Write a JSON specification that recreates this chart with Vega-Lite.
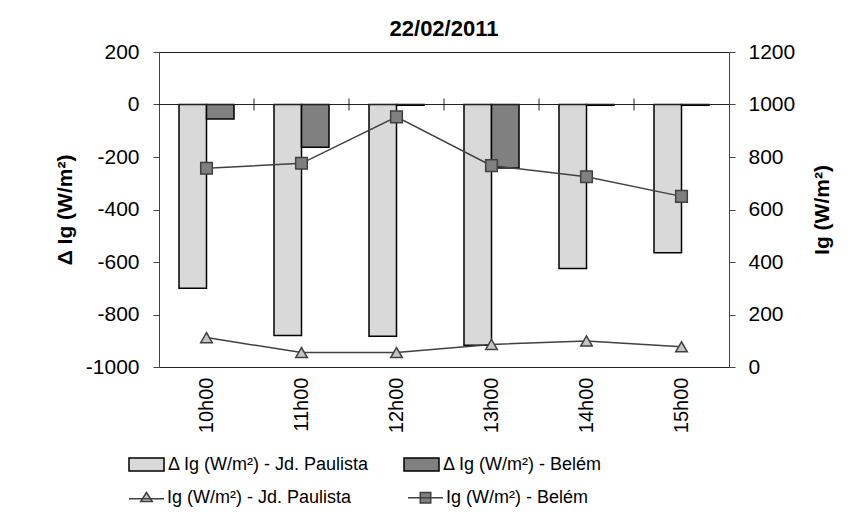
{
  "$schema": "https://vega.github.io/schema/vega-lite/v6.json",
  "width": 570,
  "height": 315,
  "autosize": {"type": "none"},
  "padding": {"left": 159, "top": 52, "right": 125, "bottom": 158},
  "background": "white",
  "title": {
    "text": "22/02/2011",
    "fontSize": 22,
    "fontWeight": "bold",
    "color": "#000",
    "anchor": "middle",
    "offset": 0
  },
  "config": {
    "font": "Liberation Sans",
    "view": {"stroke": "#222", "strokeWidth": 1},
    "axis": {
      "grid": false,
      "labelColor": "#000",
      "titleColor": "#000",
      "domainColor": "#444",
      "tickColor": "#444",
      "labelFontSize": 21,
      "titleFontSize": 21,
      "titleFontWeight": "bold"
    },
    "legend": {
      "labelFontSize": 18,
      "labelColor": "#000",
      "title": null
    }
  },
  "data": {
    "values": [
      {"hour": "10h00", "site": "Jd. Paulista", "dIg": -700, "Ig": 112},
      {"hour": "10h00", "site": "Belém", "dIg": -55, "Ig": 757},
      {"hour": "11h00", "site": "Jd. Paulista", "dIg": -880, "Ig": 55},
      {"hour": "11h00", "site": "Belém", "dIg": -163, "Ig": 776},
      {"hour": "12h00", "site": "Jd. Paulista", "dIg": -883, "Ig": 55},
      {"hour": "12h00", "site": "Belém", "dIg": -3, "Ig": 953},
      {"hour": "13h00", "site": "Jd. Paulista", "dIg": -917, "Ig": 86},
      {"hour": "13h00", "site": "Belém", "dIg": -242, "Ig": 767},
      {"hour": "14h00", "site": "Jd. Paulista", "dIg": -625, "Ig": 99},
      {"hour": "14h00", "site": "Belém", "dIg": -3, "Ig": 725},
      {"hour": "15h00", "site": "Jd. Paulista", "dIg": -565, "Ig": 77},
      {"hour": "15h00", "site": "Belém", "dIg": -3, "Ig": 650}
    ]
  },
  "layer": [
    {
      "layer": [
        {
          "mark": {"type": "bar", "stroke": "#000", "strokeWidth": 1.5},
          "encoding": {
            "x": {
              "field": "hour",
              "type": "nominal",
              "scale": {"paddingInner": 0, "paddingOuter": 0},
              "axis": {
                "title": null,
                "labelAngle": -90,
                "ticks": false,
                "tickSize": 0,
                "domain": false,
                "labelPadding": 10,
                "labelFontSize": 20
              }
            },
            "xOffset": {
              "field": "site",
              "type": "nominal",
              "scale": {"domain": ["Jd. Paulista", "Belém"], "paddingInner": 0, "paddingOuter": 0.727}
            },
            "y": {
              "field": "dIg",
              "type": "quantitative",
              "scale": {"domain": [-1000, 200], "nice": false, "zero": false},
              "axis": {
                "title": "Δ Ig (W/m²)",
                "values": [-1000, -800, -600, -400, -200, 0, 200],
                "labelExpr": "'' + datum.value",
                "tickSize": 6,
                "labelPadding": 14,
                "titlePadding": 10
              }
            },
            "fill": {
              "field": "site",
              "type": "nominal",
              "scale": {"domain": ["Jd. Paulista", "Belém"], "range": ["#d9d9d9", "#808080"]},
              "legend": {
                "orient": "none",
                "legendX": -31,
                "legendY": 394,
                "direction": "horizontal",
                "columns": 2,
                "columnPadding": 31,
                "symbolType": "M-1,-0.37H1V0.37H-1Z",
                "symbolSize": 1225,
                "symbolStrokeColor": "#000",
                "symbolStrokeWidth": 1.5,
                "symbolOpacity": 1,
                "labelOffset": 3,
                "labelLimit": 400,
                "labelExpr": "datum.label == 'Belém' ? 'Δ Ig (W/m²)  - Belém' : 'Δ Ig (W/m²) - Jd. Paulista'"
              }
            }
          }
        },
        {
          "mark": {"type": "rule", "color": "#222", "strokeWidth": 1},
          "encoding": {"y": {"datum": 0}}
        },
        {
          "transform": [{"filter": "datum.hour != '10h00' && datum.site == 'Belém'"}],
          "mark": {"type": "rule", "color": "#222", "strokeWidth": 1},
          "encoding": {
            "x": {"field": "hour", "type": "nominal", "bandPosition": 0},
            "y": {"datum": 23},
            "y2": {"datum": -23}
          }
        }
      ]
    },
    {
      "layer": [
        {
          "mark": {"type": "line", "color": "#404040", "strokeWidth": 1.5},
          "encoding": {
            "x": {"field": "hour", "type": "nominal"},
            "y": {
              "field": "Ig",
              "type": "quantitative",
              "scale": {"domain": [0, 1200], "nice": false},
              "axis": {
                "orient": "right",
                "title": "Ig (W/m²)",
                "titleAngle": 270,
                "values": [0, 200, 400, 600, 800, 1000, 1200],
                "labelExpr": "'' + datum.value",
                "tickSize": 6,
                "labelPadding": 13,
                "titlePadding": 38
              }
            },
            "detail": {"field": "site"}
          }
        },
        {
          "transform": [{"filter": "datum.site == 'Jd. Paulista'"}],
          "mark": {"type": "point", "shape": "triangle-up", "filled": true, "fill": "#c4c4c4", "stroke": "#404040", "strokeWidth": 1.5, "size": 135, "opacity": 1},
          "encoding": {
            "x": {"field": "hour", "type": "nominal"},
            "y": {"field": "Ig", "type": "quantitative"}
          }
        },
        {
          "transform": [{"filter": "datum.site == 'Belém'"}],
          "mark": {"type": "point", "shape": "square", "filled": true, "fill": "#808080", "stroke": "#404040", "strokeWidth": 1.5, "size": 135, "opacity": 1},
          "encoding": {
            "x": {"field": "hour", "type": "nominal"},
            "y": {"field": "Ig", "type": "quantitative"}
          }
        },
        {
          "transform": [{"filter": "false"}],
          "mark": {"type": "point", "filled": true, "strokeWidth": 1.5, "size": 1225, "opacity": 1},
          "encoding": {
            "x": {"field": "hour", "type": "nominal"},
            "y": {"field": "Ig", "type": "quantitative"},
            "shape": {
              "field": "site",
              "type": "nominal",
              "scale": {
                "domain": ["Jd. Paulista", "Belém"],
                "range": ["M-1,0.05H1M0,-0.3L0.33,0.22H-0.33Z", "M-1,0H1M-0.3,-0.3H0.3V0.3H-0.3Z"]
              },
              "legend": {
                "orient": "none",
                "legendX": -31,
                "legendY": 427,
                "direction": "horizontal",
                "columns": 2,
                "columnPadding": 53,
                "symbolSize": 1225,
                "symbolStrokeWidth": 1.5,
                "symbolOpacity": 1,
                "labelOffset": 2,
                "labelLimit": 400,
                "labelExpr": "'Ig (W/m²) - ' + datum.label"
              }
            },
            "fill": {
              "field": "site",
              "type": "nominal",
              "scale": {"domain": ["Jd. Paulista", "Belém"], "range": ["#c4c4c4", "#808080"]},
              "legend": {
                "orient": "none",
                "legendX": -31,
                "legendY": 427,
                "direction": "horizontal",
                "columns": 2,
                "columnPadding": 53,
                "symbolSize": 1225,
                "symbolStrokeWidth": 1.5,
                "symbolOpacity": 1,
                "labelOffset": 2,
                "labelLimit": 400,
                "labelExpr": "'Ig (W/m²) - ' + datum.label"
              }
            },
            "stroke": {
              "field": "site",
              "type": "nominal",
              "scale": {"domain": ["Jd. Paulista", "Belém"], "range": ["#404040", "#404040"]},
              "legend": {
                "orient": "none",
                "legendX": -31,
                "legendY": 427,
                "direction": "horizontal",
                "columns": 2,
                "columnPadding": 53,
                "symbolSize": 1225,
                "symbolStrokeWidth": 1.5,
                "symbolOpacity": 1,
                "labelOffset": 2,
                "labelLimit": 400,
                "labelExpr": "'Ig (W/m²) - ' + datum.label"
              }
            }
          }
        }
      ]
    }
  ],
  "resolve": {
    "scale": {"y": "independent", "fill": "independent", "shape": "independent", "stroke": "independent"},
    "legend": {"fill": "independent", "shape": "independent", "stroke": "independent"}
  }
}
